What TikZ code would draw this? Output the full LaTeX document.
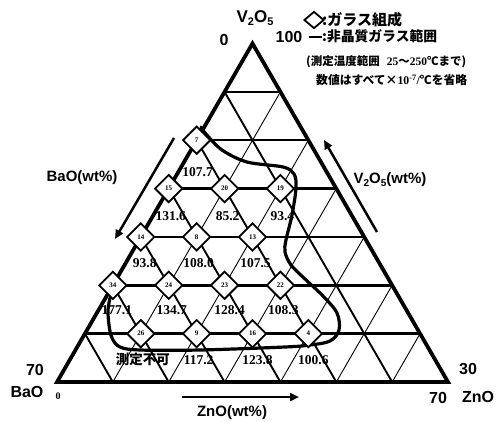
\documentclass[tikz,border=0pt]{standalone}
\usepackage{fontspec}
\setmainfont{Liberation Sans}
\newfontfamily\serif{Liberation Serif}
\newfontfamily\jp{Noto Sans CJK JP}
\usetikzlibrary{shapes.geometric,arrows.meta,calc}
\begin{document}
\begin{tikzpicture}[x=1pt,y=-1pt,
 border/.style={line width=3.8pt,line join=miter},
 hline/.style={line width=2.5pt},
 dline/.style={line width=1.9pt},
 uline/.style={line width=0.9pt},
 comp/.style={diamond,draw,fill=white,line width=1.8pt,minimum size=28pt,inner sep=0pt,font=\serif\bfseries\fontsize{7}{7}\selectfont},
 val/.style={font=\serif\bfseries\fontsize{13.5}{13.5}\selectfont,inner sep=0pt},
 lab/.style={font=\bfseries\fontsize{15}{15}\selectfont,inner sep=0pt},
 jpl/.style={font=\jp\bfseries\fontsize{13.8}{14}\selectfont,inner sep=0pt,anchor=west},
 arr/.style={line width=2.5pt,-{Triangle[length=9pt,width=8pt]}},
 region/.style={line width=3.2pt,line cap=round,line join=round}]
\useasboundingbox (0,0) rectangle (496,421);
\foreach \i in {0,...,7}{\foreach \j in {0,...,\i}{\coordinate (p-\i-\j) at ({252.5+(\j-\i/2)*55.86},{43.5+\i*48.36});}}
% grid
\foreach \k in {1,...,6}{
  \pgfmathtruncatemacro\m{7-\k}
  \draw[uline] (p-\k-\k) -- (p-7-\k);
  \draw[dline] (p-\k-0) -- (p-7-\m);
  \draw[hline] (p-\k-0) -- (p-\k-\k);
}
\draw[border] (p-0-0) -- (p-7-0) -- (p-7-7) -- cycle;
% amorphous region
\draw[region] plot[smooth,tension=0.55] coordinates {(201,127) (206,134) (222,150) (247,162) (283,167) (294,174) (296,188) (292,215) (286,240) (285,252) (291,265) (305,279) (323,296) (337,313) (339,330) (330,341) (310,345) (285,347) (200,350) (140,350) (120,347) (112,338) (109,325) (108,310) (110,298)};
% compositions
\node[comp] (d7) at (p-2-0) {7};
\node[comp] (d15) at (p-3-0) {15};
\node[comp] (d20) at (p-3-1) {20};
\node[comp] (d19) at (p-3-2) {19};
\node[comp] (d14) at (p-4-0) {14};
\node[comp] (d8) at (p-4-1) {8};
\node[comp] (d13) at (p-4-2) {13};
\node[comp] (d34) at (p-5-0) {34};
\node[comp] (d24) at (p-5-1) {24};
\node[comp] (d23) at (p-5-2) {23};
\node[comp] (d22) at (p-5-3) {22};
\node[comp] (d26) at (p-6-1) {26};
\node[comp] (d9) at (p-6-2) {9};
\node[comp] (d16) at (p-6-3) {16};
\node[comp] (d4) at (p-6-4) {4};
% values
\node[val] (v7) at ($(d7)+(1,32)$) {107.7};
\node[val] (v15) at ($(d15)+(2,28)$) {131.6};
\node[val] (v20) at ($(d20)+(3,28)$) {85.2};
\node[val] (v19) at ($(d19)+(2,28)$) {93.4};
\node[val] (v14) at ($(d14)+(4,26)$) {93.8};
\node[val] (v8) at ($(d8)+(2,26)$) {108.0};
\node[val] (v13) at ($(d13)+(3,26)$) {107.5};
\node[val] (v34) at ($(d34)+(4,25)$) {177.1};
\node[val] (v24) at ($(d24)+(3,25)$) {134.7};
\node[val] (v23) at ($(d23)+(5,25)$) {128.4};
\node[val] (v22) at ($(d22)+(3,25)$) {108.3};
\node[val,font=\jp\bfseries\fontsize{13.5}{14}\selectfont] (v26) at ($(d26)+(2,26)$) {測定不可};
\node[val] (v9) at ($(d9)+(2,26)$) {117.2};
\node[val] (v16) at ($(d16)+(5,26)$) {123.8};
\node[val] (v4) at ($(d4)+(5,26)$) {100.6};
% axis arrows
\coordinate (ba1) at (174,138); \coordinate (ba2) at (115,239);
\draw[arr] (ba1) -- (ba2);
\coordinate (vo1) at (377,232); \coordinate (vo2) at (324,140);
\draw[arr] (vo1) -- (vo2);
\coordinate (zn1) at (182,397); \coordinate (zn2) at (299,397);
\draw[arr] (zn1) -- (zn2);
\node[lab] (lba) at (82,178) {BaO(wt\%)};
\node[lab] (lvo) at (390,180) {V\raisebox{-0.35ex}{\fontsize{10}{10}\selectfont 2}O\raisebox{-0.35ex}{\fontsize{10}{10}\selectfont 5}(wt\%)};
\node[lab] (lzn) at (232,413) {ZnO(wt\%)};
% corner labels
\node[lab,font=\bfseries\fontsize{16}{16}\selectfont] (c70a) at (35,370) {70};
\node[lab,font=\bfseries\fontsize{16}{16}\selectfont] (cba) at (27,392) {BaO};
\node[val,font=\serif\bfseries\fontsize{10}{10}\selectfont] (c0a) at (58,396) {0};
\node[lab,font=\bfseries\fontsize{16}{16}\selectfont] (c30) at (468,369) {30};
\node[lab,font=\bfseries\fontsize{16}{16}\selectfont] (c70b) at (438,398) {70};
\node[lab,font=\bfseries\fontsize{16}{16}\selectfont] (czn) at (478,397) {ZnO};
\node[lab,font=\bfseries\fontsize{17}{17}\selectfont] (cvo) at (255,18) {V\raisebox{-0.35ex}{\fontsize{11}{11}\selectfont 2}O\raisebox{-0.35ex}{\fontsize{11}{11}\selectfont 5}};
\node[lab,font=\bfseries\fontsize{16}{16}\selectfont] (c0b) at (224,40) {0};
\node[lab,font=\bfseries\fontsize{16}{16}\selectfont] (c100) at (289,37) {100};
% legend
\node[diamond,draw,line width=1.8pt,minimum width=20pt,minimum height=17pt,inner sep=0pt] (ldia) at (314,20) {};
\node[jpl,font=\jp\bfseries\fontsize{15}{15}\selectfont] (lt1) at (322,20) {:ガラス組成};
\coordinate (ll1) at (309,37); \coordinate (ll2) at (322,37);
\draw[line width=2.2pt] (ll1) -- (ll2);
\node[jpl] (lt2) at (322,36) {:非晶質ガラス範囲};
\node[jpl,font=\jp\bfseries\fontsize{11.5}{12}\selectfont] (lt3) at (306,62) {(測定温度範囲\hspace{7pt}{\serif\bfseries 25}～{\serif\bfseries 250}℃まで)};
\node[jpl,font=\jp\bfseries\fontsize{11.8}{12}\selectfont] (lt4) at (316,80) {数値はすべて×{\serif\bfseries 10\textsuperscript{-7}/}℃を省略};
\end{tikzpicture}
\end{document}
